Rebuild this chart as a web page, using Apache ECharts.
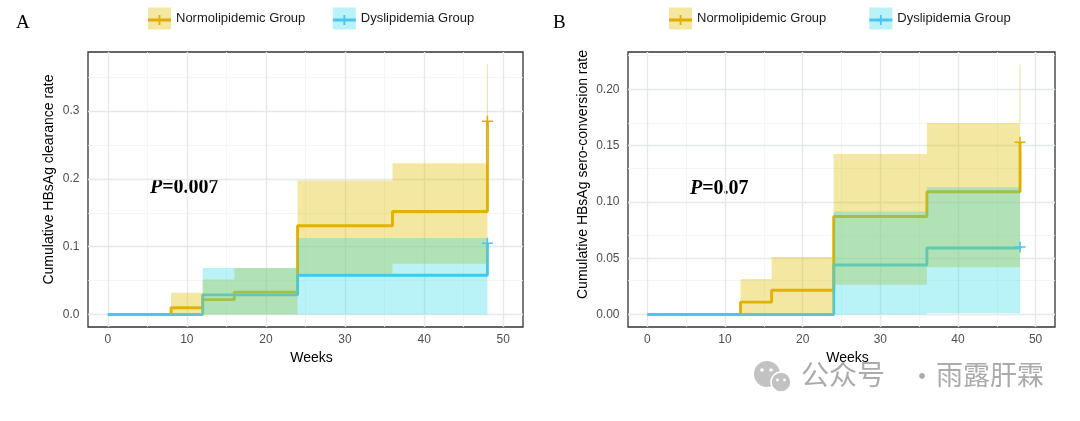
<!DOCTYPE html>
<html><head><meta charset="utf-8">
<script src="https://cdn.jsdelivr.net/npm/echarts@6/dist/echarts.min.js"></script>
<style>html,body{margin:0;padding:0;background:#fff}#c{width:1080px;height:421px}</style>
</head><body><div id="c"></div>
<script>
// ---------- data ----------
const groupNames = ['Normolipidemic Group', 'Dyslipidemia Group'];
const xTicks = [0, 10, 20, 30, 40, 50];
const xMinor = [5, 15, 25, 35, 45];
const aYTicks = [0, 0.1, 0.2, 0.3];
const aYMinor = [0.05, 0.15, 0.25, 0.35];
const bYTicks = [0, 0.05, 0.10, 0.15, 0.20];
const bYMinor = [0.025, 0.075, 0.125, 0.175, 0.225];

// Panel A: HBsAg clearance
const aNormWeeks = [0, 8, 12, 16, 24, 36, 48];
const aNormRate  = [0, 0.010, 0.022, 0.033, 0.131, 0.152, 0.285];
const aNormCiWeeks = [8, 12, 16, 24, 36, 48];
const aNormCiLow   = [0, 0, 0, 0.060, 0.075, 0.190];
const aNormCiHigh  = [0.032, 0.0515, 0.0687, 0.1975, 0.223, 0.369];
const aDysWeeks = [0, 12, 24, 48];
const aDysRate  = [0, 0.029, 0.058, 0.105];
const aDysCiWeeks = [12, 24, 48];
const aDysCiLow   = [0, 0, 0];
const aDysCiHigh  = [0.0687, 0.113, 0.113];

// Panel B: HBsAg sero-conversion
const bNormWeeks = [0, 12, 16, 24, 36, 48];
const bNormRate  = [0, 0.011, 0.0215, 0.087, 0.109, 0.153];
const bNormCiWeeks = [12, 16, 24, 36, 48];
const bNormCiLow   = [0, 0, 0.0265, 0.042, 0.100];
const bNormCiHigh  = [0.0316, 0.051, 0.1425, 0.170, 0.222];
const bDysWeeks = [0, 24, 36, 48];
const bDysRate  = [0, 0.044, 0.059, 0.060];
const bDysCiWeeks = [24, 36, 48];
const bDysCiLow   = [0, 0.001, 0.001];
const bDysCiHigh  = [0.0914, 0.113, 0.113];

const pA = '0.007';
const pB = '0.07';

// ---------- styles ----------
const goldLine = '#E2AD00';
const blueLine = '#4CC4F2';
const goldFill = 'rgba(223,191,0,0.37)';
const cyanFill = 'rgba(25,215,228,0.30)';
const goldEdge = 'rgba(232,200,60,0.55)';
const cyanEdge = 'rgba(25,215,228,0.45)';
const majorGrid = '#E4EAEA';
const minorGrid = '#F1F4F4';
const SANS = 'Liberation Sans';
const SERIF = 'Liberation Serif';
const plusPath = 'path://M0,4.3H10V5.7H0Z M4.3,0H5.7V10H4.3Z';

function zip(xs, ys) { return xs.map((x, i) => [x, ys[i]]); }

function band(name, weeks, low, high, fill, edge, idx) {
  return {
    type: 'custom', name: name, xAxisIndex: idx, yAxisIndex: idx, z: 3, silent: true,
    itemStyle: { color: fill }, animation: false,
    data: [[weeks[0], low[0]]],
    renderItem: function (params, api) {
      const n = weeks.length;
      const top = [], bot = [];
      for (let i = 0; i < n - 1; i++) {
        top.push(api.coord([weeks[i], high[i]]), api.coord([weeks[i + 1], high[i]]));
        bot.push(api.coord([weeks[i], low[i]]), api.coord([weeks[i + 1], low[i]]));
      }
      const pts = top.concat(bot.reverse());
      const children = [{ type: 'polygon', shape: { points: pts }, style: { fill: fill } }];
      if (high[n - 1] > high[n - 2]) {
        const p0 = api.coord([weeks[n - 1], high[n - 2]]);
        const p1 = api.coord([weeks[n - 1], high[n - 1]]);
        children.push({ type: 'line', shape: { x1: p0[0], y1: p0[1], x2: p1[0], y2: p1[1] },
          style: { stroke: edge, lineWidth: 1 } });
      }
      return { type: 'group', children: children };
    }
  };
}

function stepLine(name, weeks, rate, color, idx, z) {
  return {
    type: 'line', name: name, xAxisIndex: idx, yAxisIndex: idx, step: 'end',
    data: zip(weeks, rate), showSymbol: false, symbol: 'none', z: z, silent: true,
    lineStyle: { color: color, width: 2.9 }, itemStyle: { color: color }, animation: false
  };
}

function censor(name, weeks, rate, color, idx) {
  const n = weeks.length;
  return {
    type: 'scatter', name: name, xAxisIndex: idx, yAxisIndex: idx, z: 4, silent: true,
    data: [[weeks[n - 1], rate[n - 1]]], symbol: plusPath, symbolSize: 11,
    itemStyle: { color: color, opacity: 1 }, animation: false
  };
}

function gridLines(idx, yMajor, yMinorV) {
  const d = [];
  xMinor.forEach(v => d.push({ xAxis: v, lineStyle: { color: minorGrid, width: 0.8 } }));
  yMinorV.forEach(v => d.push({ yAxis: v, lineStyle: { color: minorGrid, width: 0.8 } }));
  xTicks.forEach(v => d.push({ xAxis: v, lineStyle: { color: majorGrid, width: 1.4 } }));
  yMajor.forEach(v => d.push({ yAxis: v, lineStyle: { color: majorGrid, width: 1.4 } }));
  return {
    type: 'scatter', xAxisIndex: idx, yAxisIndex: idx, data: [], z: 1, silent: true,
    markLine: { silent: true, z: 1, zlevel: 0, symbol: ['none', 'none'], label: { show: false },
      lineStyle: { type: 'solid' }, animation: false, data: d }
  };
}

function xAxis(idx) {
  return {
    type: 'value', gridIndex: idx, min: -2.5, max: 52.5,
    name: 'Weeks', nameLocation: 'middle', nameGap: 17,
    nameTextStyle: { fontFamily: SANS, fontSize: 14, color: '#000', padding: [0, 0, 0, 12] },
    axisLine: { show: false },
    axisTick: { show: true, customValues: xTicks, length: 3, lineStyle: { color: '#333', width: 1 } },
    axisLabel: { customValues: xTicks, fontFamily: SANS, fontSize: 12, color: '#4D4D4D', margin: 7,
      formatter: v => String(v) },
    splitLine: { show: false }
  };
}

function yAxis(idx, min, max, ticks, name, gap, pad, digits) {
  return {
    type: 'value', gridIndex: idx, min: min, max: max,
    name: name, nameLocation: 'middle', nameGap: gap,
    nameTextStyle: { fontFamily: SANS, fontSize: 14, color: '#000', padding: [0, 0, 0, pad] },
    axisLine: { show: false },
    axisTick: { show: true, customValues: ticks, length: 3, lineStyle: { color: '#333', width: 1 } },
    axisLabel: { customValues: ticks, fontFamily: SANS, fontSize: 12, color: '#4D4D4D', margin: 8.5,
      formatter: v => v.toFixed(digits) },
    splitLine: { show: false }
  };
}

function legends(left, gap) {
  return [
    { show: true, left: left, top: 7.5, padding: 0, itemWidth: 23, itemHeight: 22, itemGap: gap,
      selectedMode: false, icon: 'rect',
      textStyle: { fontFamily: SANS, fontSize: 13, color: '#1a1a1a', padding: [0, 0, 0, 0] },
      data: [
        { name: groupNames[0], icon: 'rect', itemStyle: { color: goldFill, borderWidth: 0 } },
        { name: groupNames[1], icon: 'rect', itemStyle: { color: cyanFill, borderWidth: 0 } }
      ] },
    { show: true, left: left, top: 13.5, padding: 0, itemWidth: 23, itemHeight: 10, itemGap: gap, z: 5,
      selectedMode: false,
      textStyle: { fontFamily: SANS, fontSize: 13, lineHeight: 10, color: 'rgba(0,0,0,0)' },
      data: [
        { name: groupNames[0], icon: 'path://M0,3.5H23V6.5H0Z M10.6,0H12.4V10H10.6Z',
          itemStyle: { color: goldLine, borderWidth: 0 } },
        { name: groupNames[1], icon: 'path://M0,3.5H23V6.5H0Z M10.6,0H12.4V10H10.6Z',
          itemStyle: { color: blueLine, borderWidth: 0 } }
      ] }
  ];
}

const option = {
  backgroundColor: '#fff',
  animation: false,
  grid: [
    { left: 88, right: 1080 - 523, top: 52, bottom: 94, show: true, borderColor: '#333', borderWidth: 1.3, backgroundColor: '#fff' },
    { left: 628, right: 1080 - 1055, top: 52, bottom: 94, show: true, borderColor: '#333', borderWidth: 1.3, backgroundColor: '#fff' }
  ],
  xAxis: [xAxis(0), xAxis(1)],
  yAxis: [
    yAxis(0, -0.0184, 0.3872, aYTicks, 'Cumulative HBsAg clearance rate', 32, 20, 1),
    yAxis(1, -0.0111, 0.2331, bYTicks, 'Cumulative HBsAg sero-conversion rate', 38, 30, 2)
  ],
  legend: legends(148, 27.5).concat(legends(669, 43)),
  series: [
    band(groupNames[0], aNormCiWeeks, aNormCiLow, aNormCiHigh, goldFill, goldEdge, 0),
    band(groupNames[1], aDysCiWeeks, aDysCiLow, aDysCiHigh, cyanFill, cyanEdge, 0),
    band(groupNames[0], bNormCiWeeks, bNormCiLow, bNormCiHigh, goldFill, goldEdge, 1),
    band(groupNames[1], bDysCiWeeks, bDysCiLow, bDysCiHigh, cyanFill, cyanEdge, 1),
    gridLines(0, aYTicks, aYMinor),
    gridLines(1, bYTicks, bYMinor),
    stepLine(groupNames[0], aNormWeeks, aNormRate, goldLine, 0, 2),
    stepLine(groupNames[1], aDysWeeks, aDysRate, blueLine, 0, 2),
    stepLine(groupNames[0], bNormWeeks, bNormRate, goldLine, 1, 2),
    stepLine(groupNames[1], bDysWeeks, bDysRate, blueLine, 1, 2),
    censor(groupNames[0], aNormWeeks, aNormRate, goldLine, 0),
    censor(groupNames[1], aDysWeeks, aDysRate, blueLine, 0),
    censor(groupNames[0], bNormWeeks, bNormRate, goldLine, 1),
    censor(groupNames[1], bDysWeeks, bDysRate, blueLine, 1)
  ],
  graphic: [
    { type: 'text', left: 16, top: 14, style: { text: 'A', font: '19px "' + SERIF + '"', fill: '#000' } },
    { type: 'text', left: 553, top: 14, style: { text: 'B', font: '19px "' + SERIF + '"', fill: '#000' } },
    { type: 'text', x: 150, y: 188, style: {
        text: '{i|P}{b|=' + pA + '}', textVerticalAlign: 'middle',
        rich: { i: { fontFamily: SERIF, fontSize: 20, fontStyle: 'italic', fontWeight: 'bold', fill: '#000' },
                b: { fontFamily: SERIF, fontSize: 20, fontWeight: 'bold', fill: '#000' } } } },
    { type: 'text', x: 690, y: 189, style: {
        text: '{i|P}{b|=' + pB + '}', textVerticalAlign: 'middle',
        rich: { i: { fontFamily: SERIF, fontSize: 20, fontStyle: 'italic', fontWeight: 'bold', fill: '#000' },
                b: { fontFamily: SERIF, fontSize: 20, fontWeight: 'bold', fill: '#000' } } } },
    { type: 'group', children: [
        { type: 'circle', shape: { cx: 767, cy: 374, r: 13 }, style: { fill: '#C2C2C2' } },
        { type: 'circle', shape: { cx: 781, cy: 382, r: 10 }, style: { fill: '#C2C2C2', stroke: '#fff', lineWidth: 1.5 } },
        { type: 'circle', shape: { cx: 762, cy: 370, r: 1.8 }, style: { fill: '#fff' } },
        { type: 'circle', shape: { cx: 771, cy: 370, r: 1.8 }, style: { fill: '#fff' } },
        { type: 'circle', shape: { cx: 777.5, cy: 380, r: 1.4 }, style: { fill: '#fff' } },
        { type: 'circle', shape: { cx: 784.5, cy: 380, r: 1.4 }, style: { fill: '#fff' } }
    ] },
    { type: 'text', left: 801, top: 360, style: { text: '公众号', font: '28px "Noto Sans CJK SC"', fill: '#ABABAB' } },
    { type: 'text', x: 922, y: 376, style: { text: '·', font: '27px "Noto Sans CJK SC"', fill: '#ABABAB',
        textAlign: 'center', textVerticalAlign: 'middle' } },
    { type: 'text', right: 1080 - 1044, top: 361, style: { text: '雨露肝霖', font: '27px "Noto Sans CJK SC"', fill: '#ABABAB' } }
  ]
};

const chart = echarts.init(document.getElementById('c'), null, { renderer: 'canvas' });
chart.setOption(option);
</script>
</body></html>
